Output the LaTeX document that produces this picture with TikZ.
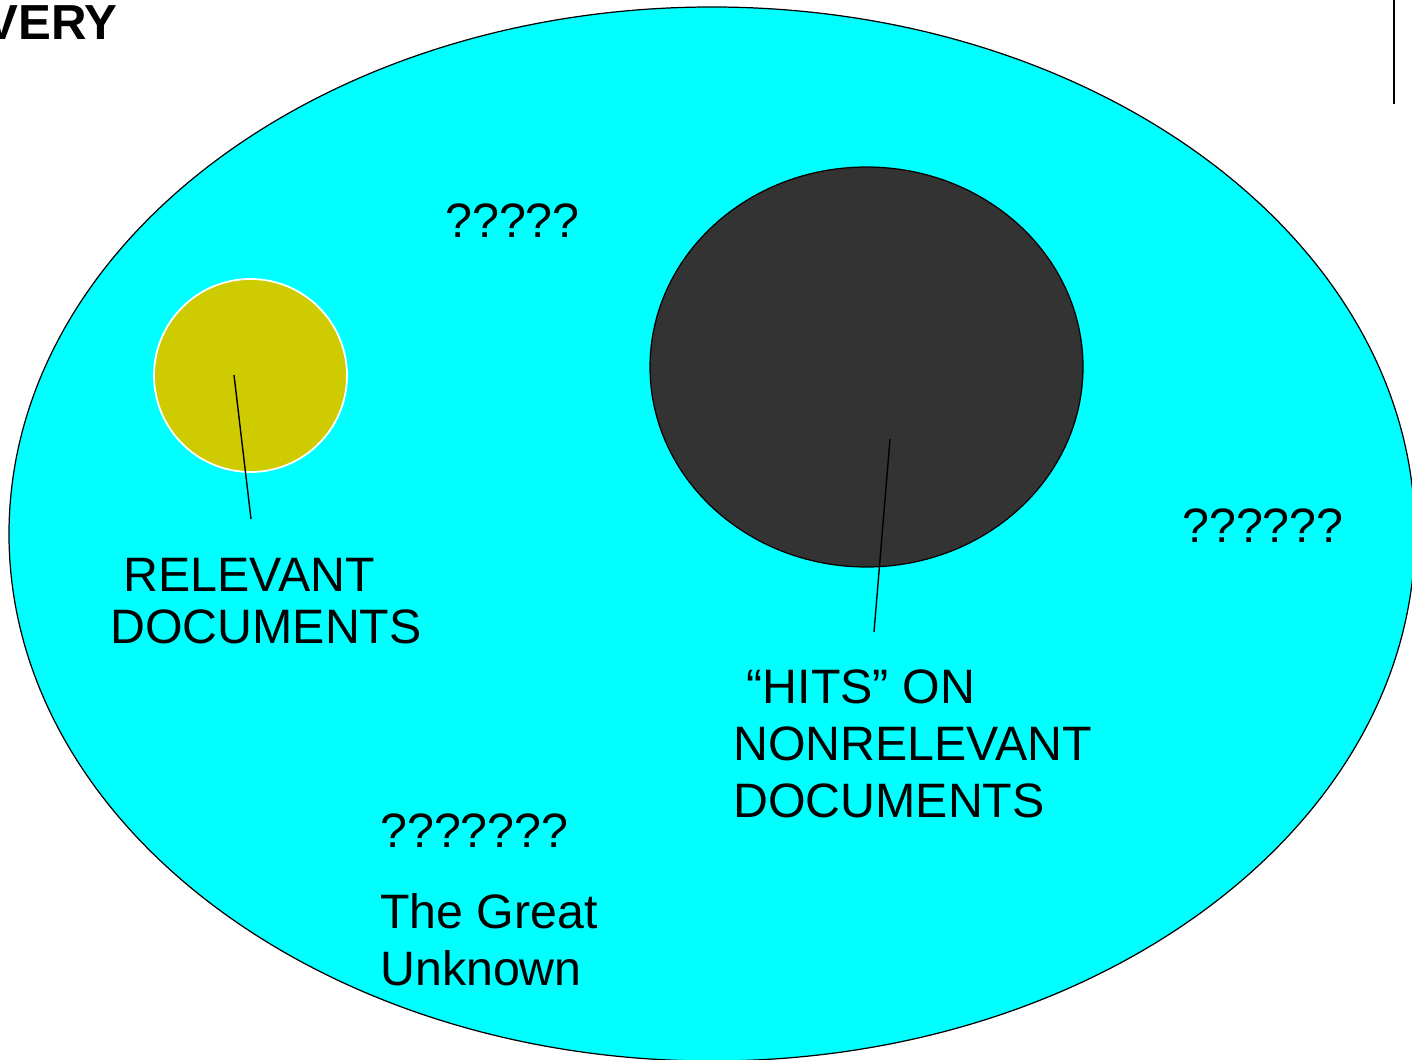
\documentclass[tikz,border=0pt]{standalone}
\usepackage{fontspec}
\setmainfont{Liberation Sans}
\definecolor{skycyan}{RGB}{0,255,255}
\definecolor{relyellow}{RGB}{206,204,0}
\definecolor{hitgray}{RGB}{51,51,51}

\begin{document}
\begin{tikzpicture}[x=0.02cm, y=-0.02cm,
  lbl/.style={anchor=base west, inner sep=0pt, align=left, font=\fontsize{27.5}{32.4}\selectfont},
  lead/.style={line width=0.8pt}]
\useasboundingbox (0,0) rectangle (1412,1060);

%title and rule
\node[anchor=base east, inner sep=0pt, font=\fontsize{28}{32}\selectfont\bfseries] (title) at (118,40) {VERY};
\coordinate (ruletop) at (1394,0);
\coordinate (rulebot) at (1394,104);
\draw[line width=1.1pt] (ruletop) -- (rulebot);

%whole collection
\draw[fill=skycyan, line width=0.7pt] (712,534) ellipse [x radius=703, y radius=527];

%relevant documents
\draw[fill=relyellow, draw=white, line width=1pt] (250.5,375.5) circle [radius=96.5];

%hits
\draw[fill=hitgray, line width=0.7pt] (866.5,367) ellipse [x radius=216.5, y radius=200];

%leaders
\coordinate (relin) at (234,375);
\coordinate (relout) at (251,519);
\draw[lead] (relin) -- (relout);
\coordinate (hitin) at (890,439);
\coordinate (hitout) at (874,632);
\draw[lead] (hitin) -- (hitout);

%labels (base is the last line)
\node[lbl, font=\fontsize{27.5}{29.3}\selectfont] (reldocs) at (110,643) {\hspace*{.278em}RELEVANT\\DOCUMENTS};
\node[lbl] (hitdocs) at (733,817) {\hspace*{.278em}“HITS” ON\\NONRELEVANT\\DOCUMENTS};
\node[lbl] (qtop) at (445,238) {?????};
\node[lbl] (qright) at (1182,542) {??????};
\node[lbl] (qbottom) at (380,847) {???????};
\node[lbl] (unknown) at (380,985) {The Great\\Unknown};
\end{tikzpicture}
\end{document}
